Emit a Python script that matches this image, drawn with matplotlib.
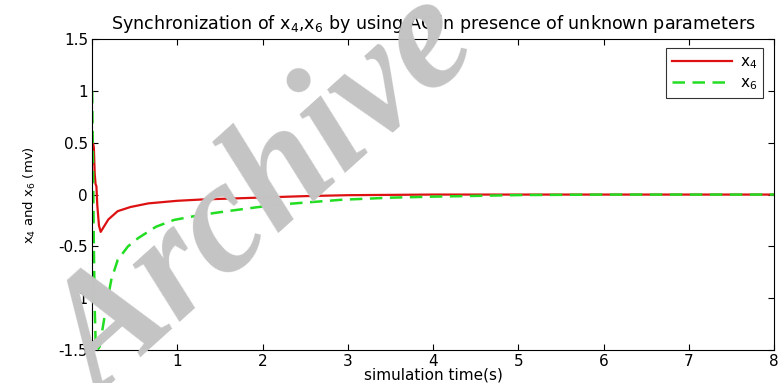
import matplotlib
matplotlib.use("Agg")
import matplotlib.pyplot as plt

# time samples (s)
t_x4 = [0.0, 0.005, 0.01, 0.02, 0.03, 0.04, 0.05, 0.06, 0.08, 0.10, 0.13, 0.19,
        0.30, 0.45, 0.66, 1.0, 1.3, 1.75, 2.5, 3.0, 4.0, 5.0, 6.0, 7.0, 8.0]
x4 = [0.30, 0.55, 0.50, 0.45, 0.20, 0.10, 0.08, -0.10, -0.30, -0.36, -0.32, -0.24,
      -0.16, -0.12, -0.085, -0.06, -0.047, -0.035, -0.015, -0.006, 0.0, 0.0, 0.0, 0.0, 0.0]

t_x6 = [0.0, 0.01, 0.02, 0.03, 0.04, 0.06, 0.087, 0.127, 0.166, 0.225, 0.30, 0.42,
        0.54, 0.75, 0.96, 1.25, 1.55, 2.14, 2.93, 3.5, 4.0, 5.0, 6.0, 7.0, 8.0]
x6 = [1.0, 0.3, -0.5, -1.1, -1.4, -1.5, -1.47, -1.27, -1.08, -0.82, -0.63, -0.50,
      -0.42, -0.31, -0.245, -0.20, -0.164, -0.10, -0.05, -0.03, -0.02, -0.005, 0.0, 0.0, 0.0]

plt.rcParams['font.family'] = ['DejaVu Sans']
plt.rcParams['mathtext.fontset'] = 'dejavusans'

fig = plt.figure(figsize=(7.81, 3.83), dpi=100)
ax = fig.add_axes([0.118, 0.086, 0.873, 0.812])

ax.plot(t_x4, x4, color='#dd1111', lw=1.6, label='x$_4$')
ax.plot(t_x6, x6, color='#22dd22', lw=1.8, ls=(0, (5, 3)), label='x$_6$')

ax.set_xlim(0, 8)
ax.set_ylim(-1.5, 1.5)
ax.set_xticks(range(0, 9))
ax.set_yticks([-1.5, -1, -0.5, 0, 0.5, 1, 1.5])
ax.set_yticklabels(['-1.5', '-1', '-0.5', '0', '0.5', '1', '1.5'])
ax.tick_params(direction='in', top=True, right=True, labelsize=11, length=4, pad=3)
for s in ax.spines.values():
    s.set_linewidth(0.8)

ax.set_title('Synchronization of x$_4$,x$_6$ by using AC in presence of unknown parameters',
             fontsize=12.6, pad=7)
ax.set_xlabel('simulation time(s)', fontsize=11, labelpad=-1)
ax.set_ylabel('x$_4$ and x$_6$ (mv)', fontsize=9.5, labelpad=15)

leg = ax.legend(loc='upper right', fontsize=11, fancybox=False, edgecolor='black',
                handlelength=3.9, borderpad=0.4, labelspacing=0.3, handletextpad=0.5,
                bbox_to_anchor=(0.995, 0.995))
leg.get_frame().set_linewidth(0.8)

# watermark
fig.text(0.34, 0.48, 'Archive', fontsize=115, family='Liberation Serif',
         weight='bold', style='italic', color='#c4c4c4', rotation=42,
         ha='center', va='center', zorder=10)

fig.savefig('out.png', dpi=100)
